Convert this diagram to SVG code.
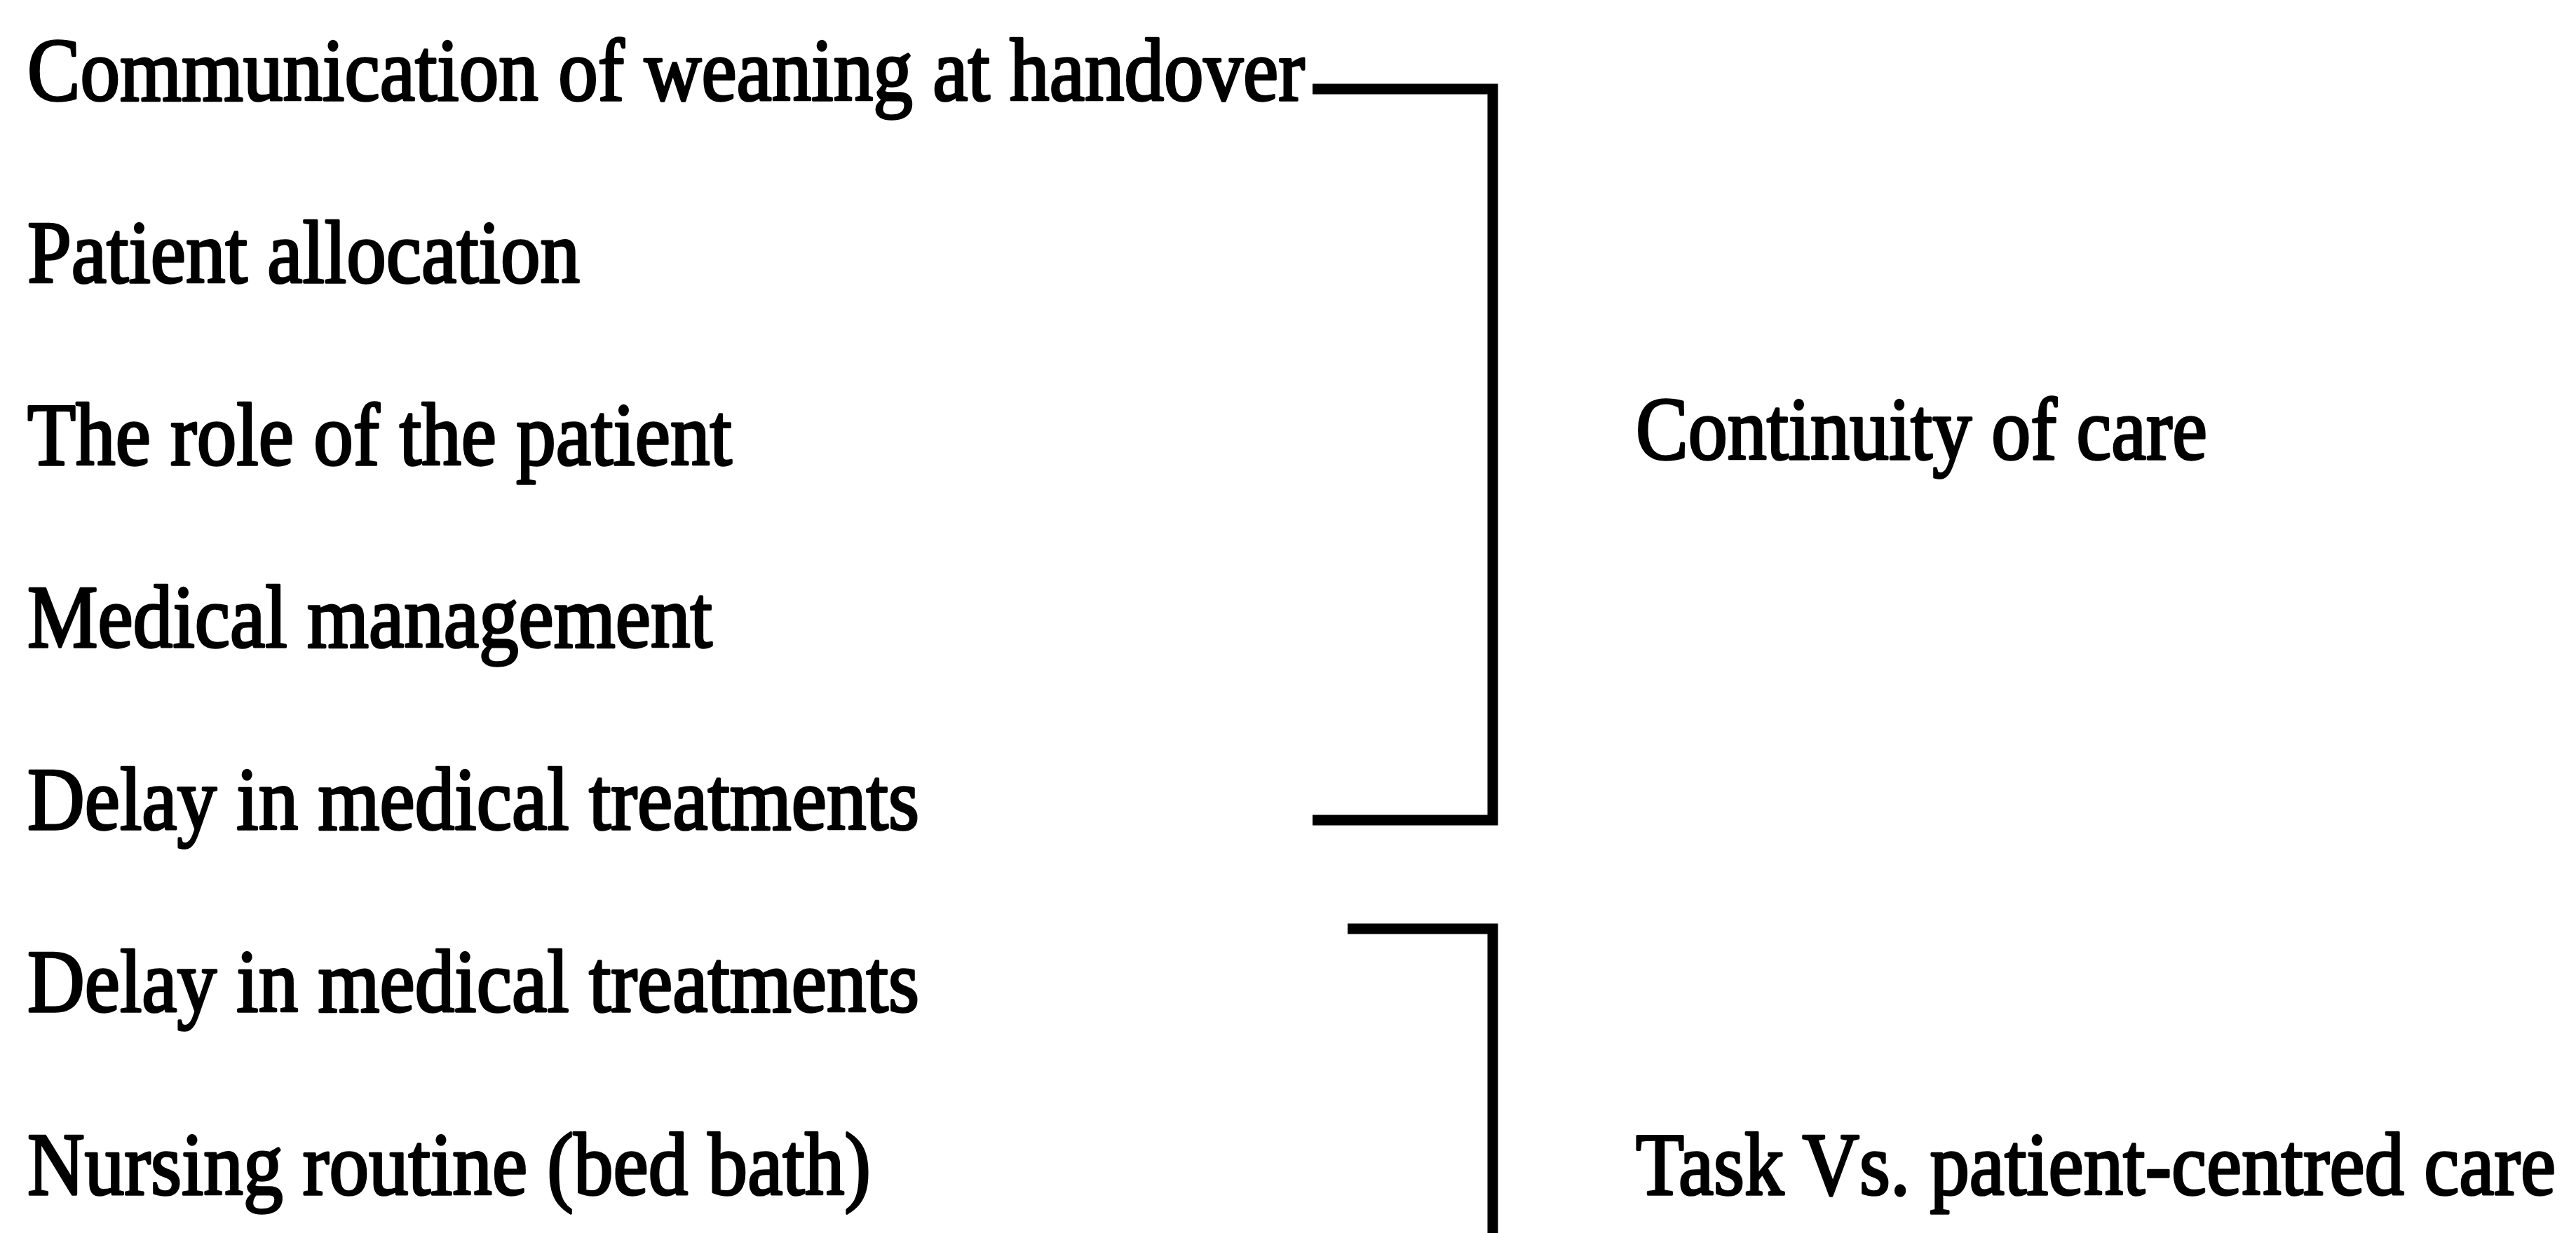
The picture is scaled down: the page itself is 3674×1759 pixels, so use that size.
<svg xmlns="http://www.w3.org/2000/svg" width="3674" height="1759" viewBox="0 0 3674 1759">
  <style>
    .t { font-family: "Liberation Serif", "Times New Roman", serif; font-size: 127px; fill: #000; stroke: #000; stroke-width: 3.5px; stroke-linejoin: round; }
    .br { fill: none; stroke: #000; stroke-width: 15; stroke-linejoin: miter; stroke-linecap: butt; }
  </style>
  <rect x="0" y="0" width="3674" height="1759" fill="#fff"/>

  <!-- factors listed on the left -->
  <g id="factor-communication"><text class="t" x="39" y="143" textLength="1822" lengthAdjust="spacingAndGlyphs">Communication of weaning at handover</text></g>
  <g id="factor-allocation"><text class="t" x="39" y="403" textLength="788" lengthAdjust="spacingAndGlyphs">Patient allocation</text></g>
  <g id="factor-patient-role"><text class="t" x="39" y="663" textLength="1005" lengthAdjust="spacingAndGlyphs">The role of the patient</text></g>
  <g id="factor-medical-management"><text class="t" x="39" y="923" textLength="977" lengthAdjust="spacingAndGlyphs">Medical management</text></g>
  <g id="factor-delay-1"><text class="t" x="39" y="1183" textLength="1272" lengthAdjust="spacingAndGlyphs">Delay in medical treatments</text></g>
  <g id="factor-delay-2"><text class="t" x="39" y="1443" textLength="1272" lengthAdjust="spacingAndGlyphs">Delay in medical treatments</text></g>
  <g id="factor-nursing-routine"><text class="t" x="39" y="1704" textLength="1203" lengthAdjust="spacingAndGlyphs">Nursing routine (bed bath)</text></g>

  <!-- themes on the right -->
  <g id="theme-continuity"><text class="t" x="2333" y="655" textLength="815" lengthAdjust="spacingAndGlyphs">Continuity of care</text></g>
  <g id="theme-task-vs-patient"><text class="t" x="2333" y="1704" textLength="1312" lengthAdjust="spacingAndGlyphs">Task Vs. patient-centred care</text></g>

  <!-- grouping brackets -->
  <g id="connectors">
    <path class="br" d="M1872,127 H2129 V1170 H1872"/>
    <path class="br" d="M1922,1325 H2129 V1759"/>
  </g>
</svg>
